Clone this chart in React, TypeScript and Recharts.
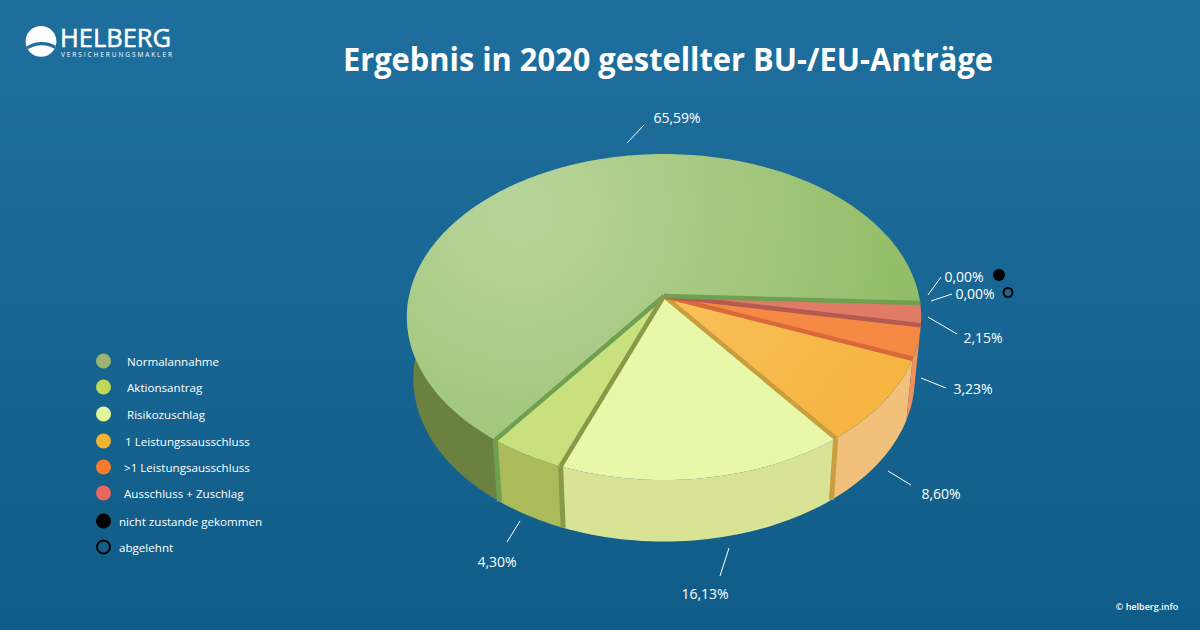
import React from "react";
import { PieChart, Pie, Cell } from "recharts";

const categories = ["Normalannahme", "Aktionsantrag", "Risikozuschlag", "1 Leistungssausschluss", ">1 Leistungsausschluss", "Ausschluss + Zuschlag", "nicht zustande gekommen", "abgelehnt"];
const shares = [65.59, 4.3, 16.13, 8.6, 3.23, 2.15, 0, 0];

const faceFills = ["url(#faceGreen)", "#c9e07e", "#e9f8a8", "url(#faceOrange)", "#f58a45", "#e07b68", "#000000", "none"];
const wallFills = ["#6b8140", "#abbb59", "#d8e396", "#f1c07a", "#f0905a", "#e07b68", "#000000", "none"];
const edgeFills = ["#6fa04f", "#889a48", "#c79f3e", "#d8693a", "#b55a50", "#6fa04f", "none", "none"];
const legendFills = ["#9db373", "#c0d854", "#e2f59a", "#efb432", "#fb7a2c", "#e9675e", "#000000", "none"];
const legendTextX = [127, 127, 127, 125, 124, 124, 119, 119];
const legendRowY = [361, 387, 414, 441, 467, 493, 521, 547];

const labelBoxes = [
  { tx: 677, ty: 117, x1: 627, y1: 143, x2: 644, y2: 125 },
  { tx: 497, ty: 561, x1: 507, y1: 542, x2: 520, y2: 521 },
  { tx: 705, ty: 593, x1: 720, y1: 576, x2: 729, y2: 548 },
  { tx: 941, ty: 493, x1: 888, y1: 471, x2: 911, y2: 485 },
  { tx: 973, ty: 388, x1: 921, y1: 378, x2: 946, y2: 388 },
  { tx: 983, ty: 337, x1: 928, y1: 317, x2: 957, y2: 334 },
  { tx: 964, ty: 276, x1: 928, y1: 295, x2: 941, y2: 277 },
  { tx: 975, ty: 293, x1: 931, y1: 301, x2: 952, y2: 294 },
];

const FONT = '"Open Sans", "Noto Sans", sans-serif';
const chartData = categories.map((name, i) => ({ name, value: shares[i] }));

const TILT = 0.6286;
const PERSPECTIVE = 0.129;
const WALL_DROP = 61.5;
const WALL_SCALE = 0.975;
const WALL_END = 350;

type P = [number, number];
function rim(cx: number, cy: number, r: number, deg: number): P {
  const a = (deg * Math.PI) / 180;
  const u = Math.cos(a);
  const v = Math.sin(a);
  const w = 1 + PERSPECTIVE * v;
  return [cx + (r * u) / w, cy - (r * TILT * v) / w];
}
function lowerRim(cx: number, cy: number, r: number, deg: number): P {
  const [x, y] = rim(cx, cy, r, deg);
  return [cx + (x - cx) * WALL_SCALE, y + WALL_DROP];
}
function arcPoints(fn: (d: number) => P, a: number, b: number): P[] {
  const n = Math.max(2, Math.ceil(Math.abs(b - a) / 1.5));
  const out: P[] = [];
  for (let i = 0; i <= n; i++) out.push(fn(a + ((b - a) * i) / n));
  return out;
}
const toPath = (pts: P[]) => "M" + pts.map((p) => `${p[0].toFixed(2)},${p[1].toFixed(2)}`).join("L") + "Z";

function FaceShape(props: any) {
  const { cx, cy, outerRadius, startAngle, endAngle, index } = props;
  if (Math.abs(endAngle - startAngle) < 0.01) return <g />;
  const pts = arcPoints((d) => rim(cx, cy, outerRadius, d), startAngle, endAngle);
  return <path d={toPath([[cx, cy], ...pts])} fill={faceFills[index]} stroke="none" />;
}

function WallShape(props: any) {
  const { cx, cy, outerRadius, startAngle, endAngle, index } = props;
  const a = Math.max(startAngle < 0 ? 180 : startAngle, 180);
  const b = Math.min(endAngle, WALL_END);
  if (b <= a) return <g />;
  const top = arcPoints((d) => rim(cx, cy, outerRadius, d), a, b);
  const low = arcPoints((d) => lowerRim(cx, cy, outerRadius, d), b, a);
  return <path d={toPath([...top, ...low])} fill={wallFills[index]} stroke="none" />;
}

function EdgeShape(props: any) {
  const { cx, cy, outerRadius, startAngle, endAngle, index } = props;
  if (Math.abs(endAngle - startAngle) < 0.01) return <g />;
  const p = rim(cx, cy, outerRadius, endAngle);
  const q = lowerRim(cx, cy, outerRadius, endAngle);
  const showWall = endAngle > 180 && endAngle < 330;
  return (
    <g>
      <line x1={cx} y1={cy} x2={p[0]} y2={p[1]} stroke={edgeFills[index]} strokeWidth={4.5} />
      {showWall && <line x1={p[0]} y1={p[1]} x2={q[0]} y2={q[1]} stroke={edgeFills[index]} strokeWidth={5} />}
    </g>
  );
}

function renderLabel(props: any) {
  const { index, value } = props;
  const b = labelBoxes[index];
  return (
    <g key={index}>
      <line x1={b.x1} y1={b.y1} x2={b.x2} y2={b.y2} stroke="#ffffff" strokeWidth={1} />
      <text x={b.tx} y={b.ty} textAnchor="middle" dominantBaseline="central" fill="#ffffff" fontFamily={FONT} fontSize={14}>
        {value.toFixed(2).replace(".", ",") + "%"}
      </text>
    </g>
  );
}

function Decorations() {
  return (
    <g>
      <text x={668} y={71} textAnchor="middle" fill="#ffffff" fontFamily={FONT} fontWeight={700} fontSize={32} textLength={650} lengthAdjust="spacingAndGlyphs">
        Ergebnis in 2020 gestellter BU-/EU-Anträge
      </text>
      <clipPath id="logoClip"><circle cx={41} cy={41.3} r={15.4} /></clipPath>
      <g clipPath="url(#logoClip)">
        <rect x={25} y={25} width={32} height={33} fill="#ffffff" />
        <path d="M24,50 Q41,38 58,49" fill="none" stroke="#1f6e9b" strokeWidth={3.2} />
        <path d="M24,52 Q27,51 30,52 L30,60 L24,60 Z" fill="#1f6e9b" />
      </g>
      <text x={60} y={47} fill="#ffffff" stroke="#ffffff" strokeWidth={0.5} fontFamily={FONT} fontSize={25} textLength={111} lengthAdjust="spacingAndGlyphs">HELBERG</text>
      <text x={61} y={56.5} fill="#ffffff" fontFamily={FONT} fontSize={6.5} textLength={111} lengthAdjust="spacing">VERSICHERUNGSMAKLER</text>
      <text x={1147} y={610} textAnchor="middle" fill="#ffffff" fontFamily={FONT} fontWeight={600} fontSize={9}>© helberg.info</text>
      {categories.map((name, i) => (
        <g key={name}>
          <circle cx={103.5} cy={legendRowY[i]} r={i === 7 ? 6.5 : 7.5} fill={legendFills[i]} stroke={i === 7 ? "#000000" : "none"} strokeWidth={2} />
          <text x={legendTextX[i]} y={legendRowY[i]} dominantBaseline="central" fill="#ffffff" fontFamily={FONT} fontSize={11.6}>{name}</text>
        </g>
      ))}
      <circle cx={999} cy={275} r={6} fill="#000000" />
      <circle cx={1008} cy={292.5} r={4.5} fill="none" stroke="#000000" strokeWidth={2} />
    </g>
  );
}

export default function App() {
  const common = { data: chartData, dataKey: "value", nameKey: "name", cx: 664, cy: 296, outerRadius: 255, innerRadius: 0, startAngle: -2.5, endAngle: 357.5, isAnimationActive: false, stroke: "none" } as any;
  return (
    <div style={{ position: "fixed", left: 0, top: 0, width: 1200, height: 630, background: "linear-gradient(180deg, #1f6f9e 0%, #105c88 100%)" }}>
      <PieChart width={1200} height={630} margin={{ top: 0, right: 0, bottom: 0, left: 0 }}>
        <defs>
          <radialGradient id="faceGreen" gradientUnits="userSpaceOnUse" cx={520} cy={210} r={420}>
            <stop offset="0%" stopColor="#b9d59b" />
            <stop offset="100%" stopColor="#90bb64" />
          </radialGradient>
          <linearGradient id="faceOrange" gradientUnits="userSpaceOnUse" x1={680} y1={300} x2={860} y2={430}>
            <stop offset="0%" stopColor="#f9bf58" />
            <stop offset="100%" stopColor="#f6b440" />
          </linearGradient>
        </defs>
        <Pie {...common} shape={WallShape} activeShape={WallShape} inactiveShape={WallShape} label={false} labelLine={false}>
          {chartData.map((d, i) => <Cell key={d.name} fill={wallFills[i]} />)}
        </Pie>
        <Pie {...common} shape={FaceShape} activeShape={FaceShape} inactiveShape={FaceShape} label={false} labelLine={false}>
          {chartData.map((d, i) => <Cell key={d.name} fill={faceFills[i]} />)}
        </Pie>
        <Pie {...common} shape={EdgeShape} activeShape={EdgeShape} inactiveShape={EdgeShape} label={renderLabel} labelLine={false}>
          {chartData.map((d, i) => <Cell key={d.name} fill={edgeFills[i]} />)}
        </Pie>
        <Decorations />
      </PieChart>
    </div>
  );
}
